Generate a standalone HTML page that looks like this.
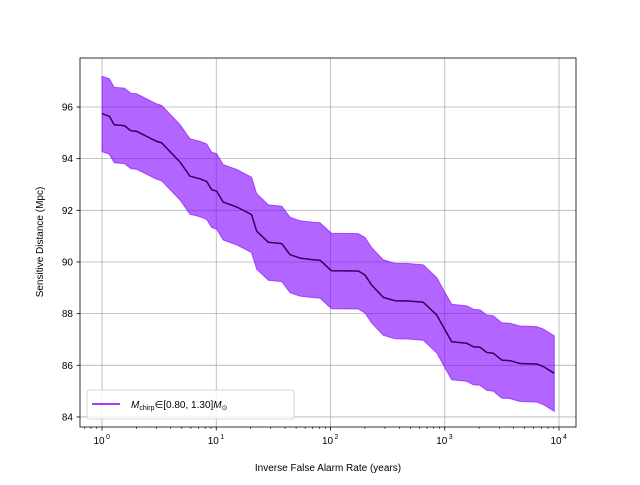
<!DOCTYPE html>
<html><head><meta charset="utf-8"><style>
body{margin:0;background:#fff;}
svg text{font-family:"Liberation Sans","DejaVu Sans",sans-serif;}
</style></head><body>
<svg id="chart" width="640" height="480" xmlns="http://www.w3.org/2000/svg"></svg>
<script>
const years=[1,1.16,1.28,1.57,1.79,2.01,3.01,3.33,4.82,5.89,7.21,8.24,9.12,10.1,11.5,15.1,18.5,20.4,22.6,28.6,37.4,44.3,54.1,70.6,80.9,102,175,200,229,290,366,480,649,851,1005,1151,1556,1778,2032,2328,2661,3148,3724,4560,6383,7295,9099];
const meanDist=[95.74,95.64,95.31,95.28,95.08,95.06,94.67,94.61,93.87,93.32,93.22,93.12,92.80,92.74,92.32,92.13,91.93,91.83,91.19,90.76,90.71,90.28,90.15,90.09,90.07,89.66,89.65,89.50,89.11,88.63,88.50,88.49,88.44,87.95,87.37,86.91,86.85,86.72,86.70,86.50,86.47,86.20,86.18,86.07,86.05,85.95,85.69];
const upperDist=[97.19,97.09,96.76,96.73,96.53,96.51,96.12,96.06,95.32,94.77,94.67,94.57,94.25,94.19,93.77,93.58,93.38,93.28,92.64,92.21,92.16,91.73,91.60,91.54,91.52,91.11,91.10,90.95,90.56,90.08,89.95,89.94,89.89,89.40,88.82,88.36,88.30,88.17,88.15,87.95,87.92,87.65,87.63,87.52,87.50,87.40,87.14];
const lowerDist=[94.27,94.17,93.84,93.81,93.61,93.59,93.20,93.14,92.40,91.85,91.75,91.65,91.33,91.27,90.85,90.66,90.46,90.36,89.72,89.29,89.24,88.81,88.68,88.62,88.60,88.19,88.18,88.03,87.64,87.16,87.03,87.02,86.97,86.48,85.90,85.44,85.38,85.25,85.23,85.03,85.00,84.73,84.71,84.60,84.58,84.48,84.22];
const yTicks=[84,86,88,90,92,94,96];
const xTickExps=[0,1,2,3,4];

const L=80,R=576,T=58,B=427;
const X=v=>102+(Math.log10(v))*114.25;
const Y=v=>107+(96-v)*25.83;
const svg=document.getElementById('chart');
const NS='http://www.w3.org/2000/svg';
function mk(tag,attrs,parent){const e=document.createElementNS(NS,tag);for(const k in attrs)e.setAttribute(k,attrs[k]);(parent||svg).appendChild(e);return e;}

// grid
yTicks.forEach(v=>{
  const g=mk('line',{x1:L,x2:R,y1:Y(v),y2:Y(v),stroke:'#b0b0b0','stroke-width':0.8});
  
  
});
xTickExps.forEach(e=>{
  const g=mk('line',{x1:X(Math.pow(10,e)),x2:X(Math.pow(10,e)),y1:T,y2:B,stroke:'#b0b0b0','stroke-width':0.8});
  
  
});

// band
let d='';
years.forEach((x,i)=>{d+=(i?'L':'M')+X(x).toFixed(1)+','+Y(upperDist[i]).toFixed(1);});
for(let i=years.length-1;i>=0;i--)d+='L'+X(years[i]).toFixed(1)+','+Y(lowerDist[i]).toFixed(1);
d+='Z';
const band=mk('path',{d:d,fill:'#7f00ff','fill-opacity':0.6,stroke:'#7f00ff','stroke-opacity':0.6,'stroke-width':1});



let ld='';
years.forEach((x,i)=>{ld+=(i?'L':'M')+X(x).toFixed(1)+','+Y(meanDist[i]).toFixed(1);});
const line=mk('path',{d:ld,fill:'none',stroke:'#33005c','stroke-width':1.5,'stroke-linejoin':'round'});



// frame
const fr=mk('rect',{x:L,y:T,width:R-L,height:B-T,fill:'none',stroke:'#000','stroke-width':0.8});



// y ticks
yTicks.forEach(v=>{
  mk('line',{x1:L-3.5,x2:L,y1:Y(v),y2:Y(v),stroke:'#000','stroke-width':0.8});
  const t=mk('text',{x:L-7,y:Y(v)+3.5,'text-anchor':'end','font-size':10});
  t.textContent=v;
  
  
});
// x ticks
xTickExps.forEach(e=>{
  const x=X(Math.pow(10,e));
  mk('line',{x1:x,x2:x,y1:B,y2:B+3.5,stroke:'#000','stroke-width':0.8});
  const t=mk('text',{x:x-3,y:B+17,'text-anchor':'middle','font-size':10});
  t.textContent='10';
  
  
  const s=mk('text',{x:x+4,y:B+12,'font-size':7});
  s.textContent=e;
});
for(let e=-1;e<5;e++)for(let m=2;m<10;m++){
  const x=X(m*Math.pow(10,e));
  if(x>L&&x<R)mk('line',{x1:x,x2:x,y1:B,y2:B+2,stroke:'#000','stroke-width':0.6});
}
const xt=mk('text',{x:328,y:471,'text-anchor':'middle','font-size':10});
xt.textContent='Inverse False Alarm Rate (years)';


const yt=mk('text',{x:43,y:242,'text-anchor':'middle','font-size':10,transform:'rotate(-90 43 242)'});
yt.textContent='Sensitive Distance (Mpc)';



// legend
const lg=mk('g',{});


mk('rect',{x:87,y:390,width:207,height:29,rx:2,fill:'#fff','fill-opacity':0.8,stroke:'#ccc','stroke-width':0.8},lg);
mk('line',{x1:92,x2:120,y1:404,y2:404,stroke:'#7f00ff','stroke-width':1.5},lg);
const lt=mk('text',{x:131,y:408,'font-size':10},lg);
lt.innerHTML='<tspan font-style="italic">M</tspan><tspan font-size="7" dy="2">chirp</tspan><tspan dy="-2">∈[0.80, 1.30]</tspan><tspan font-style="italic">M</tspan><tspan font-size="7" dy="2">⊙</tspan>';


</script>
</body></html>
